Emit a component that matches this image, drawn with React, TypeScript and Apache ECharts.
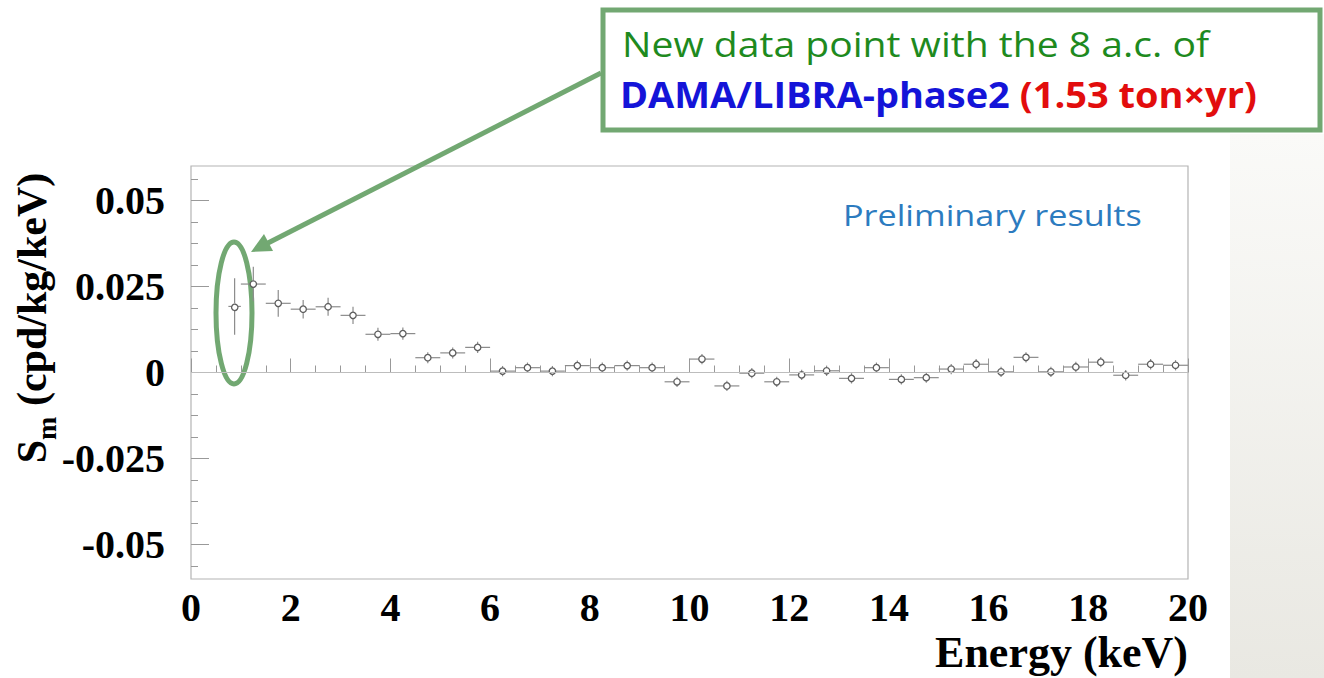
import React, { useEffect, useRef } from "react";
import * as echarts from "echarts";

// Energy bin centres (keV)
const energies = [
  0.875, 1.25, 1.75, 2.25, 2.75, 3.25, 3.75, 4.25, 4.75, 5.25, 5.75, 6.25, 6.75, 7.25, 7.75, 8.25, 8.75, 9.25,
  9.75, 10.25, 10.75, 11.25, 11.75, 12.25, 12.75, 13.25, 13.75, 14.25, 14.75, 15.25, 15.75, 16.25, 16.75,
  17.25, 17.75, 18.25, 18.75, 19.25, 19.75,
];
// Modulation amplitude Sm (cpd/kg/keV)
const values = [
  0.0192, 0.0257, 0.0201, 0.0184, 0.0191, 0.0166, 0.0111, 0.0113, 0.0043, 0.0057, 0.0073, 0.0004, 0.0014,
  0.0004, 0.002, 0.0014, 0.002, 0.0014, -0.0027, 0.0039, -0.0039, -0.0002, -0.0027, -0.0007, 0.0005,
  -0.0017, 0.0014, -0.002, -0.0015, 0.001, 0.0024, 0.0002, 0.0044, 0.0002, 0.0016, 0.003, -0.0008, 0.0024,
  0.0021,
];
// Vertical error (±)
const errors = [
  0.0082, 0.005, 0.0039, 0.0027, 0.0026, 0.0025, 0.0019, 0.0018, 0.0016, 0.0016, 0.0016, 0.0015, 0.0015,
  0.0015, 0.0015, 0.0015, 0.0015, 0.0015, 0.0015, 0.0015, 0.0015, 0.0015, 0.0015, 0.0015, 0.0015, 0.0015,
  0.0015, 0.0015, 0.0015, 0.0015, 0.0015, 0.0015, 0.0015, 0.0015, 0.0015, 0.0015, 0.0015, 0.0015, 0.0015,
];
// Horizontal half bin width (keV)
const halfWidths = [
  0.125, 0.25, 0.25, 0.25, 0.25, 0.25, 0.25, 0.25, 0.25, 0.25, 0.25, 0.25, 0.25, 0.25, 0.25, 0.25, 0.25, 0.25,
  0.25, 0.25, 0.25, 0.25, 0.25, 0.25, 0.25, 0.25, 0.25, 0.25, 0.25, 0.25, 0.25, 0.25, 0.25, 0.25, 0.25, 0.25,
  0.25, 0.25, 0.25,
];
const yLabelValues = [-0.05, -0.025, 0, 0.025, 0.05];
const yMinorValues = [
  -0.05625, -0.04375, -0.0375, -0.03125, -0.01875, -0.0125, -0.00625, 0.00625, 0.0125, 0.01875, 0.03125,
  0.0375, 0.04375, 0.05625,
];

const SERIF = "'Liberation Serif', 'Times New Roman', serif";
const SANS = "'Open Sans', Lato, sans-serif";
const GREEN = "#72a872";

export default function App() {
  const ref = useRef<HTMLDivElement>(null);
  useEffect(() => {
    if (!ref.current) return;
    const chart = echarts.init(ref.current, undefined, { renderer: "svg" });
    const data = energies.map((x, i) => [x, values[i], errors[i], halfWidths[i]]);
    const tickStyle = { color: "#999", width: 1 };
    const option: any = {
      animation: false,
      backgroundColor: "#ffffff",
      grid: {
        left: 191,
        top: 166,
        width: 997,
        height: 413,
        show: true,
        borderColor: "#b4b4b4",
        borderWidth: 1.2,
        backgroundColor: "transparent",
      },
      xAxis: {
        type: "value",
        min: 0,
        max: 20,
        interval: 2,
        axisLine: { show: false },
        axisTick: { show: true, inside: true, length: 14, lineStyle: tickStyle },
        minorTick: { show: true, splitNumber: 4, length: 7, lineStyle: tickStyle },
        splitLine: { show: false },
        axisLabel: {
          color: "#000",
          fontFamily: SERIF,
          fontWeight: "bold",
          fontSize: 40,
          margin: 8,
        },
      },
      yAxis: [
        {
          type: "value",
          min: -0.06,
          max: 0.06,
          position: "left",
          axisLine: { show: false },
          axisTick: { show: true, inside: true, length: 18, lineStyle: tickStyle, customValues: yLabelValues },
          splitLine: { show: false },
          axisLabel: {
            customValues: yLabelValues,
            color: "#000",
            fontFamily: SERIF,
            fontWeight: "bold",
            fontSize: 40,
            margin: 26,
          },
        },
        {
          type: "value",
          min: -0.06,
          max: 0.06,
          position: "left",
          offset: 0,
          axisLine: { show: false },
          axisTick: { show: true, inside: true, length: 7, lineStyle: tickStyle, customValues: yMinorValues },
          splitLine: { show: false },
          axisLabel: { show: false },
        },
      ],
      series: [
        {
          type: "custom",
          xAxisIndex: 0,
          yAxisIndex: 0,
          data,
          encode: { x: 0, y: 1 },
          markLine: {
            silent: true,
            symbol: "none",
            label: { show: false },
            lineStyle: { color: "#bdbdbd", width: 1.2, type: "solid" },
            data: [{ yAxis: 0 }],
          },
          renderItem: (params: any, api: any) => {
            const x = api.value(0);
            const y = api.value(1);
            const e = api.value(2);
            const w = api.value(3);
            const c = api.coord([x, y]);
            const t = api.coord([x, y + e]);
            const b = api.coord([x, y - e]);
            const l = api.coord([x - w, y]);
            const r = api.coord([x + w, y]);
            const rad = 3.2;
            const ls = { stroke: "#8c8c8c", lineWidth: 1.2 };
            return {
              type: "group",
              children: [
                { type: "line", shape: { x1: c[0], y1: t[1], x2: c[0], y2: c[1] - rad }, style: ls },
                { type: "line", shape: { x1: c[0], y1: c[1] + rad, x2: c[0], y2: b[1] }, style: ls },
                { type: "line", shape: { x1: l[0], y1: c[1], x2: c[0] - rad, y2: c[1] }, style: ls },
                { type: "line", shape: { x1: c[0] + rad, y1: c[1], x2: r[0], y2: c[1] }, style: ls },
                {
                  type: "circle",
                  shape: { cx: c[0], cy: c[1], r: rad },
                  style: { fill: "#fff", stroke: "#5e5e5e", lineWidth: 1.3 },
                },
              ],
            };
          },
        },
      ],
      graphic: [
        {
          type: "rect",
          shape: { x: 1230, y: 134, width: 94, height: 544 },
          style: {
            fill: new echarts.graphic.LinearGradient(0, 0, 0, 1, [
              { offset: 0, color: "#fafaf8" },
              { offset: 1, color: "#e9e8e2" },
            ]),
          },
          z: -1,
        },
        {
          type: "rect",
          shape: { x: 603, y: 10, width: 717, height: 120 },
          style: { fill: "#fff", stroke: GREEN, lineWidth: 5 },
        },
        {
          type: "text",
          x: 622,
          y: 44,
          scaleX: 1.15,
          style: {
            text: "New data point with the 8 a.c. of",
            font: `34px ${SANS}`,
            fill: "#1e8a1e",
            align: "left",
            verticalAlign: "middle",
          },
        },
        {
          type: "text",
          x: 620,
          y: 95,
          scaleX: 1.085,
          style: {
            text: "{b|DAMA/LIBRA-phase2} {r|(1.53 ton×yr)}",
            font: `bold 35px ${SANS}`,
            align: "left",
            verticalAlign: "middle",
            rich: {
              b: { fill: "#1414d8", font: `bold 35px ${SANS}` },
              r: { fill: "#e20d0d", font: `bold 35px ${SANS}` },
            },
          },
        },
        {
          type: "line",
          shape: { x1: 601, y1: 73, x2: 266, y2: 244 },
          style: { stroke: GREEN, lineWidth: 5 },
        },
        {
          type: "polygon",
          shape: {
            points: [
              [251, 252],
              [273, 251],
              [264, 234],
            ],
          },
          style: { fill: GREEN },
        },
        {
          type: "ellipse",
          shape: { cx: 234, cy: 313, rx: 18, ry: 71 },
          style: { fill: "none", stroke: GREEN, lineWidth: 5 },
        },
        {
          type: "text",
          x: 843,
          y: 214,
          scaleX: 1.14,
          style: {
            text: "Preliminary results",
            font: `30px ${SANS}`,
            fill: "#2c7bbf",
            align: "left",
            verticalAlign: "middle",
          },
        },
        {
          type: "text",
          x: 32,
          y: 318,
          rotation: Math.PI / 2,
          style: {
            text: "{s|S}{m|m}{t| (cpd/kg/keV)}",
            align: "center",
            verticalAlign: "middle",
            rich: {
              s: { font: `bold 42px ${SERIF}`, fill: "#000", lineHeight: 56, verticalAlign: "middle" },
              m: { font: `bold 28px ${SERIF}`, fill: "#000", lineHeight: 56, verticalAlign: "bottom" },
              t: { font: `bold 42px ${SERIF}`, fill: "#000", lineHeight: 56, verticalAlign: "middle" },
            },
          },
        },
        {
          type: "text",
          x: 1188,
          y: 652,
          style: {
            text: "Energy (keV)",
            font: `bold 44px ${SERIF}`,
            fill: "#000",
            align: "right",
            verticalAlign: "middle",
          },
        },
      ],
    };
    chart.setOption(option);
    return () => chart.dispose();
  }, []);
  return <div ref={ref} style={{ position: "absolute", left: 0, top: 0, width: 1324, height: 678 }} />;
}
